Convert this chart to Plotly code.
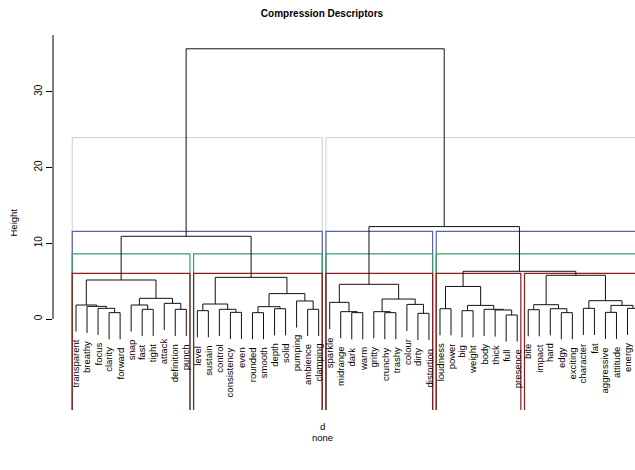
import plotly.graph_objects as go

# ---- data -------------------------------------------------------------
labels = [
    "transparent", "breathy", "focus", "clarity", "forward", "snap", "fast", "tight",
    "attack", "definition", "punch",
    "level", "sustain", "control", "consistency", "even", "rounded", "smooth", "depth",
    "solid", "pumping", "ambience", "clamping",
    "sparkle", "midrange", "dark", "warm", "gritty", "crunchy", "trashy", "colour",
    "dirty", "distortion",
    "loudness", "power", "big", "weight", "body", "thick", "full", "presence",
    "bite", "impact", "hard", "edgy", "exciting", "character", "fat", "aggressive",
    "attitude", "energy", "squashed",
]

# R-style merge table: negative = leaf (1-based, plot order), positive = earlier merge
merge_left = [-4, -3, -2, -1, -7, -6, -10, -9, 6, 4,
              -12, -15, -14, 11, -17, -19, 15, -22, -21, 17, 14, 10,
              -26, -25, -24, -29, -28, -32, -31, 27, 25,
              -34, -36, -40, -39, -38, 33, 32,
              -42, -45, -44, 39, -47, -49, -51, 44, 43, 42,
              38, 31, 22]
merge_right = [-5, 1, 2, 3, -8, 5, -11, 7, 8, 9,
               -13, -16, 12, 13, -18, -20, 16, -23, 18, 19, 20, 21,
               -27, 23, 24, -30, 26, -33, 28, 29, 30,
               -35, -37, -41, 34, 35, 36, 37,
               -43, -46, 40, 41, -48, -50, -52, 45, 46, 47,
               48, 49, 50]
merge_height = [0.84, 1.41, 1.67, 1.85, 1.28, 1.85, 1.28, 2.07, 2.73, 5.15,
                1.10, 0.88, 1.28, 1.98, 0.84, 1.36, 1.63, 1.28, 2.38, 3.35, 5.50, 10.92,
                0.84, 0.97, 2.20, 0.84, 0.97, 0.75, 1.93, 2.64, 4.58,
                1.36, 1.10, 0.53, 1.19, 1.28, 1.80, 4.30,
                1.23, 0.84, 1.36, 1.89, 1.41, 0.88, 1.41, 1.80, 2.42, 5.77,
                6.30, 12.20, 35.67]

rect_k = [2, 3, 4, 5]
rect_colors = ["#d6d6d6", "#5563a8", "#3f9c6c", "#8b1f1f"]

title_text = "Compression Descriptors"
y_ticks = [0, 10, 20, 30]

# ---- layout constants -------------------------------------------------
X_RANGE = [-1.085, 51.68]
Y_RANGE = [-12.01, 37.49]
FONT = "Liberation Sans, Arial, sans-serif"

n = len(labels)
hang = 0.1 * (max(merge_height) - min(merge_height))

node_x = {}
node_h = {}
seg_x, seg_y = [], []
for j, (a, b, h) in enumerate(zip(merge_left, merge_right, merge_height), start=1):
    ends = []
    for c in (a, b):
        if c < 0:
            ends.append((-c, h - hang))
        else:
            ends.append((node_x[c], node_h[c]))
    (xa, ba), (xb, bb) = ends
    seg_x += [xa, xa, xb, xb, None]
    seg_y += [ba, h, h, bb, None]
    node_x[j] = (xa + xb) / 2
    node_h[j] = h


def leaves_of(ref):
    if ref < 0:
        return [-ref]
    return leaves_of(merge_left[ref - 1]) + leaves_of(merge_right[ref - 1])


def clusters(k):
    groups = [len(merge_height)]
    while len(groups) < k:
        internal = [g for g in groups if g > 0]
        top = max(internal, key=lambda g: merge_height[g - 1])
        i = groups.index(top)
        groups[i:i + 1] = [merge_left[top - 1], merge_right[top - 1]]
    return [leaves_of(g) for g in groups]


sorted_h = sorted(merge_height, reverse=True)

fig = go.Figure()

# rect.hclust boxes
for k, col in zip(rect_k, rect_colors):
    top = (sorted_h[k - 2] + sorted_h[k - 1]) / 2
    rx, ry = [], []
    for grp in clusters(k):
        x0 = min(grp) - 0.34
        x1 = max(grp) + 0.33
        rx += [x0, x0, x1, x1, None]
        ry += [Y_RANGE[0], top, top, Y_RANGE[0], None]
    fig.add_trace(go.Scatter(x=rx, y=ry, mode="lines",
                             line=dict(color=col, width=1.2),
                             hoverinfo="skip", showlegend=False))

# dendrogram
fig.add_trace(go.Scatter(x=seg_x, y=seg_y, mode="lines",
                         line=dict(color="#111111", width=1),
                         hoverinfo="skip", showlegend=False))

# leaf labels
leaf_bottom = {}
for a, b, h in zip(merge_left, merge_right, merge_height):
    for c in (a, b):
        if c < 0:
            leaf_bottom[-c] = h - hang
annotations = []
for i, lab in enumerate(labels, start=1):
    annotations.append(dict(
        x=i, y=leaf_bottom[i], xref="x", yref="y", text=lab, textangle=-90,
        showarrow=False, xanchor="center", yanchor="top", yshift=-6,
        font=dict(family=FONT, size=9.5, color="#000"),
    ))

annotations += [
    dict(text="Height", xref="paper", yref="paper", x=0, y=0.5, xshift=-40,
         textangle=-90, showarrow=False, xanchor="center", yanchor="middle",
         font=dict(family=FONT, size=9.5, color="#000")),
    dict(text="d", xref="paper", yref="paper", x=(322 - 53) / 582, y=0, yshift=-16,
         showarrow=False, xanchor="center", yanchor="middle",
         font=dict(family=FONT, size=9.5, color="#000")),
    dict(text="none", xref="paper", yref="paper", x=(322 - 53) / 582, y=0, yshift=-27,
         showarrow=False, xanchor="center", yanchor="middle",
         font=dict(family=FONT, size=9.5, color="#000")),
]

fig.update_layout(
    width=635, height=470,
    margin=dict(l=53, r=0, t=35, b=60),
    paper_bgcolor="white", plot_bgcolor="white",
    title=dict(text="<b>" + title_text + "</b>", x=322 / 635, xanchor="center",
               y=1 - 13 / 470, yanchor="middle", yref="container",
               font=dict(family=FONT, size=10, color="#000")),
    xaxis=dict(range=X_RANGE, visible=False, showgrid=False, zeroline=False),
    yaxis=dict(range=Y_RANGE, showgrid=False, zeroline=False, showline=False,
               tickvals=y_ticks, ticktext=[str(t) for t in y_ticks],
               ticks="outside", ticklen=6, tickcolor="#000", tickwidth=1,
               tickangle=-90,
               tickfont=dict(family=FONT, size=10, color="#000")),
    annotations=annotations,
    shapes=[dict(type="line", xref="paper", yref="y", x0=0, x1=0, y0=0, y1=Y_RANGE[1],
                 line=dict(color="#000", width=1))],
    showlegend=False,
)

fig.write_html("out.html")
